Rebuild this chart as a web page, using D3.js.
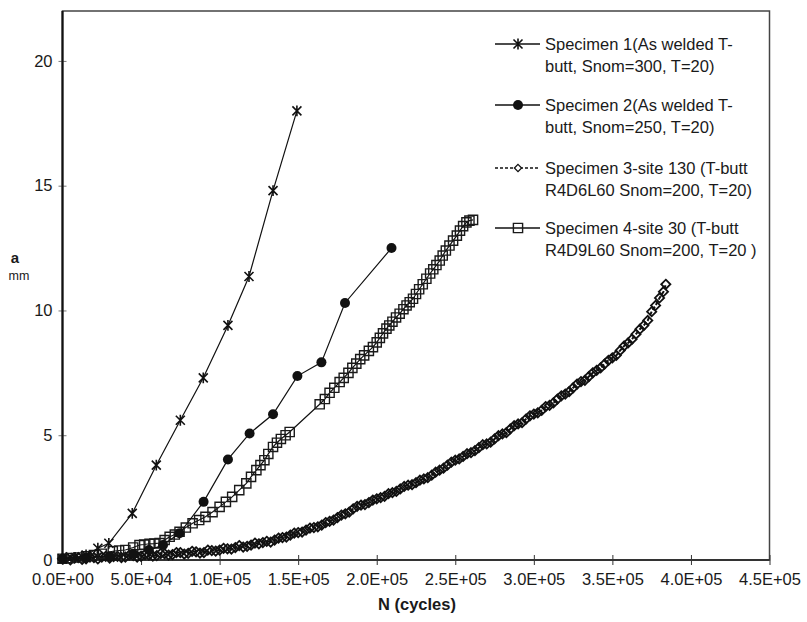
<!DOCTYPE html>
<html>
<head>
<meta charset="utf-8">
<script src="https://cdnjs.cloudflare.com/ajax/libs/d3/7.8.5/d3.min.js"></script>
<style>
	body { margin: 0; background: #fff; }
	text { font-family: "Liberation Sans", Arial, sans-serif; fill: #1a1a1a; }
</style>
</head>
<body>
<svg width="807" height="622"></svg>
<script>
// values: [N cycles, a mm]
var spec1 = [[0,0.05],[8000,0.1],[15000,0.2],[22500,0.47],[29500,0.67],[44400,1.87],[59700,3.8],
	[75000,5.6],[89600,7.3],[105300,9.4],[118700,11.36],[134000,14.8],[149200,18.0]];

var spec2 = [[0,0.05],[15000,0.1],[30000,0.15],[45000,0.25],[55000,0.4],[64000,0.6],[74500,1.07],
	[89800,2.33],[105300,4.03],[119100,5.07],[134000,5.84],[149500,7.37],[164800,7.92],
	[179800,10.3],[209400,12.5]];

var spec3 = [[0,0.05],[2500,0.1],[5000,0.0],[7500,0.08],[10000,0.1],[12500,0.02],[15000,0.05],
	[17500,0.12],[20000,0.1],[22500,0.04],[25000,0.12],[27500,0.15],[30000,0.08],[32500,0.14],
	[35000,0.15],[37500,0.1],[40000,0.12],[42500,0.2],[45000,0.18],[47500,0.12],[50000,0.15],
	[52500,0.22],[55000,0.2],[57500,0.16],[60000,0.18],[62500,0.26],[65000,0.25],[67500,0.2],
	[70000,0.22],[72500,0.3],[75000,0.3],[77500,0.24],[80000,0.27],[82500,0.35],[85000,0.33],
	[87500,0.28],[90000,0.3],[92500,0.4],[95000,0.38],[97500,0.36],[100000,0.4],[102500,0.47],
	[105000,0.45],[107500,0.44],[110000,0.5],[112500,0.58],[115000,0.52],[117500,0.55],[120000,0.6],
	[122500,0.68],[125000,0.65],[127500,0.7],[130000,0.75],[132500,0.72],[135000,0.8],[137500,0.88],
	[140000,0.9],[142500,0.92],[145000,1.0],[147500,1.08],[150000,1.1],[152500,1.12],[155000,1.2],
	[157500,1.28],[160000,1.3],[162500,1.33],[165000,1.4],[167500,1.5],[170000,1.55],[172500,1.6],
	[175000,1.7],[177500,1.8],[180000,1.85],[182500,1.92],[185000,2.05],[187500,2.15],[190000,2.2],
	[192500,2.22],[195000,2.3],[197500,2.4],[200000,2.45],[202500,2.5],[205000,2.55],[207500,2.66],
	[210000,2.7],[212500,2.75],[215000,2.85],[217500,2.95],[220000,3.0],[222500,3.02],[225000,3.1],
	[227500,3.2],[230000,3.25],[232500,3.3],[235000,3.4],[237500,3.52],[240000,3.6],[242500,3.68],
	[245000,3.8],[247500,3.92],[250000,4.0],[252500,4.05],[255000,4.15],[257500,4.26],[260000,4.3],
	[262500,4.38],[265000,4.5],[267500,4.62],[270000,4.65],[272500,4.72],[275000,4.85],[277500,4.98],
	[280000,5.05],[282500,5.1],[285000,5.25],[287500,5.38],[290000,5.45],[292500,5.5],[295000,5.65],
	[297500,5.78],[300000,5.85],[302500,5.9],[305000,6.0],[307500,6.15],[310000,6.2],[312500,6.3],
	[315000,6.45],[317500,6.58],[320000,6.65],[322500,6.75],[325000,6.9],[327500,7.05],[330000,7.15],
	[332500,7.2],[335000,7.35],[337500,7.5],[340000,7.6],[342500,7.7],[345000,7.85],[347500,8.0],
	[350000,8.1],[352500,8.2],[355000,8.4],[357500,8.58],[360000,8.7],[362500,8.85],[365000,9.05],
	[367500,9.25],[370000,9.4],[372500,9.6],[375000,9.95],[377500,10.2],[380000,10.5],[382500,10.75],
	[384000,11.05]];

var spec4 = [[0,0.05],[5000,0.08],[10000,0.1],[15000,0.15],[20000,0.2],[25000,0.25],[32000,0.35],
	[36000,0.38],[40000,0.4],[45000,0.5],[49000,0.6],[52000,0.62],[55400,0.65],[58500,0.66],
	[61800,0.68],[65000,0.8],[68200,0.93],[71500,1.02],[74500,1.13],[78500,1.3],[82800,1.47],
	[87000,1.6],[91000,1.73],[95500,1.92],[100000,2.13],[104000,2.33],[108000,2.53],[112500,2.8],
	[117000,3.07],[120000,3.33],[123400,3.6],[126000,3.8],[128500,4.0],[131000,4.25],[134000,4.53],
	[136500,4.7],[139000,4.85],[142000,5.0],[144600,5.13],[163700,6.24],[167000,6.45],[170000,6.7],
	[173000,6.9],[176400,7.13],[179000,7.3],[182000,7.5],[184500,7.7],[187000,7.87],[189500,8.05],
	[192000,8.2],[195000,8.38],[197600,8.53],[200000,8.72],[202000,8.9],[204000,9.08],[206200,9.27],
	[208000,9.4],[210000,9.55],[212300,9.72],[214600,9.87],[217000,10.05],[219000,10.2],
	[221000,10.33],[223100,10.47],[225000,10.66],[227000,10.85],[229300,11.05],[231600,11.27],
	[234000,11.48],[236000,11.65],[238000,11.82],[240100,12.0],[242000,12.2],[244000,12.4],
	[246300,12.6],[248600,12.8],[251000,13.0],[253000,13.2],[255000,13.38],[257100,13.53],
	[259000,13.6],[261300,13.63]];

var legendLines = [
	["Specimen 1(As welded T-", "butt, Snom=300, T=20)"],
	["Specimen 2(As welded T-", "butt, Snom=250, T=20)"],
	["Specimen 3-site 130 (T-butt", "R4D6L60 Snom=200, T=20)"],
	["Specimen 4-site 30 (T-butt", "R4D9L60 Snom=200, T=20 )"]
];

var xTicks = [0, 50000, 100000, 150000, 200000, 250000, 300000, 350000, 400000, 450000];
var xTickLabels = ["0.0E+00","5.0E+04","1.0E+05","1.5E+05","2.0E+05","2.5E+05","3.0E+05","3.5E+05","4.0E+05","4.5E+05"];
var yTicks = [0, 5, 10, 15, 20];

var svg = d3.select("svg"),
	plotLeft = 62.5, plotRight = 769.5, plotTop = 11, plotBottom = 560;

var x = d3.scaleLinear().domain([0, 450000]).range([plotLeft, plotRight]);
var y = d3.scaleLinear().domain([0, 22]).range([plotBottom, plotTop]);

// plot frame
svg.append("rect")
	.attr("x", plotLeft).attr("y", plotTop)
	.attr("width", plotRight - plotLeft).attr("height", plotBottom - plotTop)
	.attr("fill", "none").attr("stroke", "#444").attr("stroke-width", 1.5);

var xAxis = svg.append("g")
	.attr("transform", "translate(0," + plotBottom + ")")
	.call(d3.axisBottom(x).tickValues(xTicks)
		.tickFormat(function(d, i) { return xTickLabels[i]; })
		.tickSize(5).tickPadding(8));
xAxis.select(".domain").remove();
xAxis.selectAll(".tick line").attr("y1", -5).attr("stroke", "#333");
xAxis.selectAll("text").attr("font-size", 16.5).attr("fill", "#1a1a1a");

var yAxis = svg.append("g")
	.attr("transform", "translate(" + plotLeft + ",0)")
	.call(d3.axisLeft(y).tickValues(yTicks).tickSize(4).tickPadding(6));
yAxis.select(".domain").remove();
yAxis.selectAll(".tick line").attr("x1", 4).attr("stroke", "#777");
yAxis.selectAll("text").attr("font-size", 16.5).attr("fill", "#1a1a1a");

// heavy axis lines
svg.append("line").attr("x1", plotLeft).attr("x2", plotLeft).attr("y1", plotTop).attr("y2", plotBottom)
	.attr("stroke", "#111").attr("stroke-width", 2.2);
svg.append("line").attr("x1", plotLeft).attr("x2", plotRight).attr("y1", plotBottom).attr("y2", plotBottom)
	.attr("stroke", "#333").attr("stroke-width", 2);

svg.append("text").attr("x", 417).attr("y", 610).attr("text-anchor", "middle")
	.attr("font-size", 16.5).attr("font-weight", "bold").text("N (cycles)");
svg.append("text").attr("x", 15).attr("y", 263).attr("text-anchor", "middle")
	.attr("font-size", 15).attr("font-weight", "bold").text("a");
svg.append("text").attr("x", 19).attr("y", 280).attr("text-anchor", "middle")
	.attr("font-size", 12.5).text("mm");

// marker shapes
function star(s) {
	return "M" + (-s) + "," + (-s) + "L" + s + "," + s + "M" + (-s) + "," + s + "L" + s + "," + (-s) +
		"M0," + (-s * 1.2) + "L0," + (s * 1.2);
}
function diamond(s) { return "M0," + (-s) + "L" + s + ",0L0," + s + "L" + (-s) + ",0Z"; }
function square(s) { return "M" + (-s) + "," + (-s) + "H" + s + "V" + s + "H" + (-s) + "Z"; }

var series = [
	{ data: spec1, dash: null, width: 1.2, draw: function(g) { g.append("path").attr("d", star(4.5)).attr("fill", "none").attr("stroke", "#111").attr("stroke-width", 1.6); } },
	{ data: spec2, dash: null, width: 1.2, draw: function(g) { g.append("circle").attr("r", 5).attr("fill", "#111"); } },
	{ data: spec3, dash: "4,2", width: 2, draw: function(g) { g.append("path").attr("d", diamond(4.6)).attr("fill", "none").attr("stroke", "#111").attr("stroke-width", 1.8); } },
	{ data: spec4, dash: null, width: 1.2, draw: function(g) { g.append("path").attr("d", square(4.6)).attr("fill", "none").attr("stroke", "#1a1a1a").attr("stroke-width", 1.4); } }
];

var line = d3.line()
	.x(function(d) { return x(d[0]); })
	.y(function(d) { return y(d[1]); });

// draw series 3 first, then 4, 2, 1 on top
[2, 3, 1, 0].forEach(function(k) {
	var s = series[k];
	var g = svg.append("g");
	g.append("path").datum(s.data).attr("d", line)
		.attr("fill", "none").attr("stroke", "#111").attr("stroke-width", s.width)
		.attr("stroke-dasharray", s.dash);
	g.selectAll("g.pt").data(s.data).enter().append("g")
		.attr("class", "pt")
		.attr("transform", function(d) { return "translate(" + x(d[0]) + "," + y(d[1]) + ")"; })
		.each(function() { s.draw(d3.select(this)); });
});

// legend
var legendTop = [44, 105, 168, 228];
legendLines.forEach(function(lines, i) {
	var g = svg.append("g").attr("transform", "translate(0," + legendTop[i] + ")");
	g.append("line").attr("x1", 495).attr("x2", 540).attr("y1", 0).attr("y2", 0)
		.attr("stroke", "#111").attr("stroke-width", 1.3)
		.attr("stroke-dasharray", i == 2 ? "3,2" : null);
	var m = g.append("g").attr("transform", "translate(518,0)");
	if (i == 2) m.append("path").attr("d", diamond(3.6)).attr("fill", "#fff").attr("stroke", "#111").attr("stroke-width", 1.3);
	else series[i].draw(m);
	g.append("text").attr("x", 545).attr("y", 0).attr("dy", "0.35em")
		.attr("font-size", 16.5).text(lines[0]);
	g.append("text").attr("x", 545).attr("y", 22.5).attr("dy", "0.35em")
		.attr("font-size", 16.5).text(lines[1]);
});
</script>
</body>
</html>
